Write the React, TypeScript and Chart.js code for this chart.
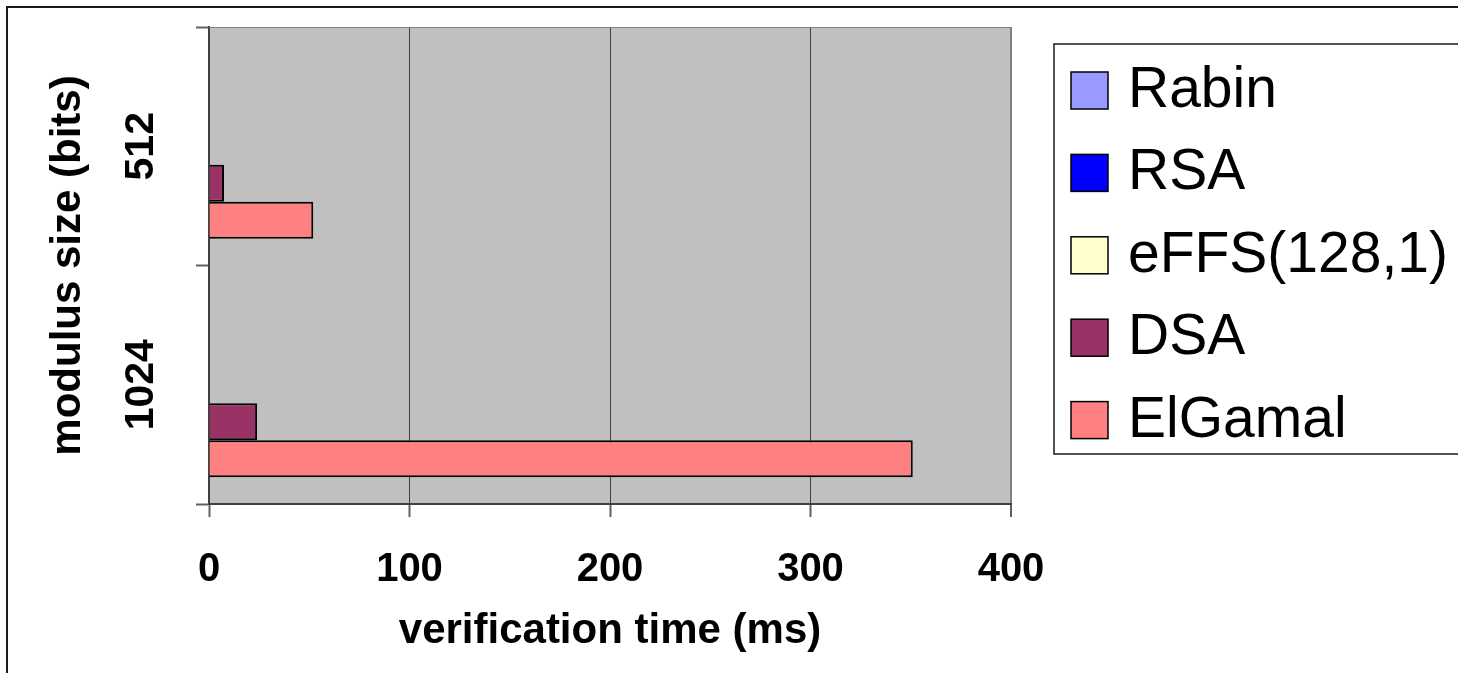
import React, { useEffect, useRef } from "react";
import { Chart, registerables } from "chart.js";

Chart.register(...registerables);

const categories = ["512", "1024"];
const seriesNames = ["Rabin", "RSA", "eFFS(128,1)", "DSA", "ElGamal"];
const rabinValues = [0, 0];
const rsaValues = [0, 0];
const effsValues = [0, 0];
const dsaValues = [7.5, 24];
const elgamalValues = [52, 351];
const seriesColors = ["#9999FF", "#0000FF", "#FFFFCC", "#993366", "#FF8080"];
const xTickValues = [0, 100, 200, 300, 400];
const xTitle = "verification time (ms)";
const yTitle = "modulus size (bits)";

const FONT = "'Liberation Sans', Arial, Helvetica, sans-serif";

const decorPlugin = {
  id: "decor",
  beforeDraw(chart: any) {
    const { ctx, chartArea } = chart;
    ctx.save();
    ctx.fillStyle = "#C0C0C0";
    ctx.fillRect(chartArea.left, chartArea.top, chartArea.right - chartArea.left, chartArea.bottom - chartArea.top);
    // outer frame
    ctx.strokeStyle = "#1a1a1a";
    ctx.lineWidth = 2;
    ctx.beginPath();
    ctx.moveTo(7, chart.height);
    ctx.lineTo(7, 7);
    ctx.lineTo(chart.width, 7);
    ctx.stroke();
    ctx.restore();
  },
  beforeDatasetsDraw(chart: any) {
    const { ctx, chartArea } = chart;
    ctx.save();
    ctx.strokeStyle = "#808080";
    ctx.lineWidth = 1;
    ctx.beginPath();
    ctx.moveTo(chartArea.left, chartArea.top + 0.5);
    ctx.lineTo(chartArea.right, chartArea.top + 0.5);
    ctx.stroke();
    ctx.restore();
  },
  afterDraw(chart: any) {
    const { ctx } = chart;
    const boxLeft = 1054;
    const boxTop = 44;
    const boxBottom = 454;
    ctx.save();
    ctx.strokeStyle = "#1a1a1a";
    ctx.lineWidth = 1.5;
    ctx.beginPath();
    ctx.moveTo(chart.width + 2, boxTop);
    ctx.lineTo(boxLeft, boxTop);
    ctx.lineTo(boxLeft, boxBottom);
    ctx.lineTo(chart.width + 2, boxBottom);
    ctx.stroke();
    ctx.font = `57px ${FONT}`;
    ctx.textAlign = "left";
    ctx.textBaseline = "alphabetic";
    chart.data.datasets.forEach((ds: any, i: number) => {
      const cy = 90.5 + i * 82.4;
      ctx.fillStyle = ds.backgroundColor;
      ctx.fillRect(1071, cy - 18.5, 37, 37);
      ctx.strokeStyle = "#000";
      ctx.lineWidth = 1.5;
      ctx.strokeRect(1071, cy - 18.5, 37, 37);
      ctx.fillStyle = "#000";
      ctx.fillText(ds.label, 1128, cy + 16.5);
    });
    ctx.restore();
  },
};

export default function App() {
  const canvasRef = useRef<HTMLCanvasElement | null>(null);

  useEffect(() => {
    if (!canvasRef.current) return;
    const seriesValues = [rabinValues, rsaValues, effsValues, dsaValues, elgamalValues];
    const chart = new Chart(canvasRef.current, {
      type: "bar",
      data: {
        labels: categories,
        datasets: seriesNames.map((name, i) => ({
          label: name,
          data: seriesValues[i],
          backgroundColor: seriesColors[i],
          borderColor: "#000000",
          borderWidth: 2,
          categoryPercentage: 0.776,
          barPercentage: 1,
        })),
      },
      options: {
        indexAxis: "y",
        animation: false,
        responsive: false,
        maintainAspectRatio: false,
        events: [],
        layout: { padding: { left: 10, top: 27, right: 447, bottom: 0 } },
        plugins: {
          legend: { display: false },
          tooltip: { enabled: false },
        },
        scales: {
          x: {
            type: "linear",
            min: xTickValues[0],
            max: xTickValues[xTickValues.length - 1],
            afterFit: (s: any) => {
              s.height = 169;
              s.paddingLeft = 0;
              s.paddingRight = 0;
            },
            afterBuildTicks: (s: any) => {
              s.ticks = xTickValues.map((v) => ({ value: v }));
            },
            ticks: {
              color: "#000",
              padding: 29,
              font: { family: FONT, size: 40, weight: "bold" },
            },
            grid: {
              color: (c: any) => (c.tick && c.tick.value === 400 ? "#808080" : "#404040"),
              lineWidth: (c: any) => (c.tick && c.tick.value === 400 ? 2 : 1),
              tickLength: 13,
              tickColor: "#606060",
              tickWidth: 2,
            },
            border: { color: "#404040", width: 2 },
            title: {
              display: true,
              text: xTitle,
              color: "#000",
              font: { family: FONT, size: 42, weight: "bold" },
              padding: { top: 0, bottom: 16 },
            },
          },
          y: {
            afterFit: (s: any) => {
              s.width = 199;
              s.paddingTop = 0;
              s.paddingBottom = 0;
            },
            ticks: {
              color: "#000",
              minRotation: 90,
              maxRotation: 90,
              crossAlign: "center",
              padding: 9,
              font: { family: FONT, size: 41, weight: "bold" },
            },
            grid: {
              drawOnChartArea: false,
              tickLength: 13,
              tickColor: "#606060",
              tickWidth: 2,
            },
            border: { color: "#404040", width: 2 },
            title: {
              display: true,
              text: yTitle,
              color: "#000",
              font: { family: FONT, size: 42, weight: "bold" },
              padding: { top: 33, bottom: 0 },
            },
          },
        },
      } as any,
      plugins: [decorPlugin],
    });
    return () => chart.destroy();
  }, []);

  return (
    <div style={{ position: "fixed", left: 0, top: 0, width: 1458, height: 673, background: "#fff" }}>
      <canvas ref={canvasRef} width={1458} height={673} style={{ display: "block" }} />
    </div>
  );
}
